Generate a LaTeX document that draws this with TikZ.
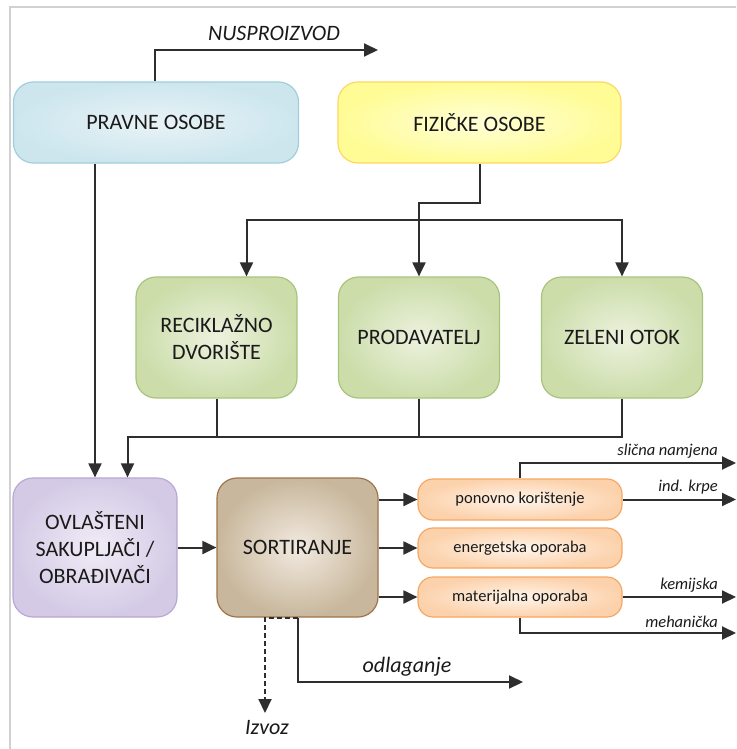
\documentclass[tikz,border=0pt]{standalone}
\usepackage{fontspec}
\setmainfont{Carlito}
\usetikzlibrary{arrows.meta}
\definecolor{linec}{HTML}{2E2E2E}
\definecolor{txt}{HTML}{1A1A1A}
\tikzset{
  box/.style={shade, rounded corners=20pt, line width=1.2pt, inner sep=0pt, align=center,
    text=txt, font=\fontsize{22}{27}\selectfont},
  obox/.style={box, rounded corners=15pt, minimum width=204pt, minimum height=40pt,
    inner color=orange!8, outer color={rgb,255:red,252;green,210;blue,172}, draw={rgb,255:red,246;green,166;blue,100},
    font=\fontsize{16.5}{20}\selectfont},
  arr/.style={draw=linec, line width=2pt, -{Triangle[length=14pt,width=13pt]}},
  conn/.style={draw=linec, line width=2pt},
  lbl/.style={text=txt, font=\fontsize{22}{26}\selectfont\itshape, inner sep=1pt},
  slbl/.style={text=txt, font=\fontsize{16.5}{18}\selectfont\itshape, inner sep=1pt, anchor=east},
}
\begin{document}
\begin{tikzpicture}[x=1pt,y=-1pt]
\useasboundingbox (0,0) rectangle (736,749);
\draw[black!18, line width=1.6pt] (10,749) -- (10,7) -- (736,7);

% top boxes
\node[box, minimum width=285pt, minimum height=81pt,
  inner color={rgb,255:red,232;green,243;blue,247}, outer color={rgb,255:red,205;green,230;blue,238},
  draw={rgb,255:red,160;green,206;blue,220}] (pravne) at (156,122.5) {PRAVNE OSOBE};
\node[box, minimum width=283pt, minimum height=81pt,
  inner color={rgb,255:red,255;green,255;blue,215}, outer color={rgb,255:red,255;green,252;blue,150},
  draw={rgb,255:red,255;green,214;blue,100}] (fiz) at (479.5,122.5) {FIZIČKE OSOBE};

% green boxes
\tikzset{gbox/.style={box, minimum width=161pt, minimum height=121pt,
  inner color={rgb,255:red,236;green,242;blue,222}, outer color={rgb,255:red,204;green,221;blue,170},
  draw={rgb,255:red,168;green,196;blue,124}}}
\node[gbox] (recik) at (216.5,337.5) {RECIKLAŽNO\\DVORIŠTE};
\node[gbox] (prod) at (419,337.5) {PRODAVATELJ};
\node[gbox] (zel) at (622,337.5) {ZELENI OTOK};

% lower boxes
\node[box, minimum width=164pt, minimum height=139pt,
  inner color={rgb,255:red,240;green,236;blue,246}, outer color={rgb,255:red,212;green,202;blue,230},
  draw={rgb,255:red,184;green,168;blue,210}] (ovl) at (95,547.5) {OVLAŠTENI\\SAKUPLJAČI /\\OBRAĐIVAČI};
\node[box, minimum width=161pt, minimum height=139pt,
  inner color={rgb,255:red,242;green,234;blue,224}, outer color={rgb,255:red,200;green,183;blue,156},
  draw={rgb,255:red,160;green,116;blue,74}] (sort) at (297.5,547.5) {SORTIRANJE};

\node[obox, minimum height=41pt] (pon) at (520,499.5) {ponovno korištenje};
\node[obox] (ene) at (520,548) {energetska oporaba};
\node[obox] (mat) at (520,597) {materijalna oporaba};

% coordinates
\coordinate (nusend) at (378,50);
\coordinate (hdist) at (0,220);
\coordinate (hcol) at (0,437);
\coordinate (colL) at (127.5,437);
\coordinate (rend) at (736,0);
\coordinate (slend) at (736,463);
\coordinate (mehend) at (736,633);
\coordinate (odend) at (523,682);
\coordinate (izend) at (265,713);

% connectors
\draw[arr] ([xshift=-1pt]pravne.north) |- (nusend);
\draw[arr] (ovl.north |- pravne.south) -- (ovl.north);
\draw[arr] (fiz.south) -- ++(0,39.5) -| (prod.north);
\draw[conn, {Triangle[length=14pt,width=13pt]}-{Triangle[length=14pt,width=13pt]}]
  ([xshift=30pt]recik.north) |- (zel.north |- hdist) -- (zel.north);
\draw[arr] (zel.south) |- (colL) -- (colL |- ovl.north);
\draw[conn] (recik.south) -- (recik.south |- hcol);
\draw[conn] (prod.south) -- (prod.south |- hcol);
\draw[arr] (ovl.east) -- (sort.west);
\draw[arr] (sort.east |- pon.west) -- (pon.west);
\draw[arr] (sort.east |- ene.west) -- (ene.west);
\draw[arr] (sort.east |- mat.west) -- (mat.west);
\draw[arr] (pon.north) |- (slend);
\draw[arr] (pon.east) -- (pon.east -| rend);
\draw[arr] (mat.east) -- (mat.east -| rend);
\draw[arr] (mat.south) |- (mehend);
\draw[arr] (sort.south) |- (odend);
\draw[arr, dashed, dash pattern=on 5pt off 3pt] (sort.south) -- (izend |- sort.south) -- (izend);

% labels
\node[lbl] (nus) at (274,33) {NUSPROIZVOD};
\node[slbl] (l1) at (719,451) {slična namjena};
\node[slbl] (l2) at (719,487) {ind. krpe};
\node[slbl] (l3) at (719,585) {kemijska};
\node[slbl] (l4) at (719,622) {mehanička};
\node[lbl] (odl) at (407,667) {odlaganje};
\node[lbl] (izv) at (267,728) {Izvoz};
\end{tikzpicture}
\end{document}
